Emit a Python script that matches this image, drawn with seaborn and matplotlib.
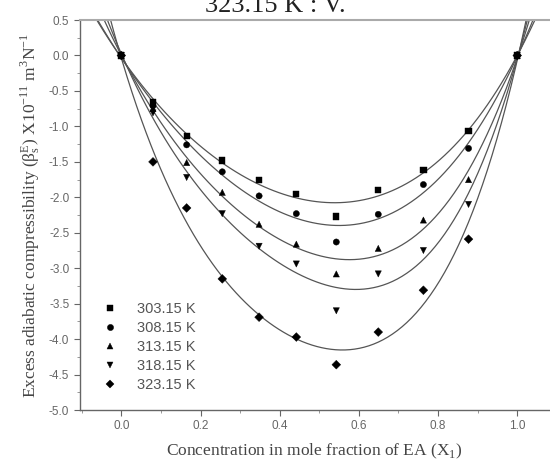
import numpy as np
import pandas as pd
import seaborn as sns
import matplotlib
matplotlib.use("Agg")
import matplotlib.pyplot as plt
from matplotlib.ticker import MultipleLocator, FormatStrFormatter

sns.set_theme(style="white")
plt.rcParams['font.family'] = ['Liberation Sans', 'DejaVu Sans']
plt.rcParams['axes.unicode_minus'] = False

# mole fraction of EA
x1 = [0.0, 0.08, 0.165, 0.255, 0.348, 0.442, 0.543, 0.649, 0.763, 0.877, 1.0]

# excess adiabatic compressibility, x10^-11 m^2 N^-1
k303 = [0.0, -0.66, -1.14, -1.48, -1.76, -1.95, -2.27, -1.90, -1.62, -1.07, 0.0]
k308 = [0.0, -0.71, -1.26, -1.64, -1.98, -2.23, -2.63, -2.24, -1.82, -1.31, 0.0]
k313 = [0.0, -0.75, -1.51, -1.93, -2.38, -2.66, -3.08, -2.72, -2.32, -1.75, 0.0]
k318 = [0.0, -0.81, -1.72, -2.23, -2.69, -2.94, -3.60, -3.08, -2.75, -2.10, 0.0]
k323 = [0.0, -1.50, -2.15, -3.15, -3.69, -3.97, -4.36, -3.90, -3.31, -2.59, 0.0]

labels = ['303.15 K', '308.15 K', '313.15 K', '318.15 K', '323.15 K']
series = [k303, k308, k313, k318, k323]
markers = {'303.15 K': 's', '308.15 K': 'o', '313.15 K': '^',
           '318.15 K': 'v', '323.15 K': 'D'}

df = pd.concat([pd.DataFrame({'x': x1, 'y': s, 'T': lab})
                for s, lab in zip(series, labels)], ignore_index=True)

fig = plt.figure(figsize=(5.5, 4.66), dpi=100)
ax = fig.add_axes([0.145, 0.120, 0.853, 0.837])
ax.set_xlim(-0.105, 1.08)
ax.set_ylim(-5.0, 0.5)

# fitted curves
for lab in labels:
    sub = df[df['T'] == lab]
    sns.regplot(data=sub, x='x', y='y', order=4, ci=None, truncate=False,
                scatter=False, ax=ax,
                line_kws={'color': '#555555', 'lw': 0.9})

sns.scatterplot(data=df, x='x', y='y', style='T', markers=markers,
                color='black', s=20, edgecolor='black', linewidth=0.3,
                ax=ax, zorder=3)

ax.set_xlim(-0.105, 1.08)
ax.set_ylim(-5.0, 0.5)

leg = ax.legend(loc='lower left', bbox_to_anchor=(0.005, 0.012), frameon=False,
                fontsize=10.5, handletextpad=0.85, labelspacing=0.35,
                markerscale=1.0)
for t in leg.get_texts():
    t.set_color('#555555')

ax.xaxis.set_major_locator(MultipleLocator(0.2))
ax.xaxis.set_minor_locator(MultipleLocator(0.1))
ax.yaxis.set_major_locator(MultipleLocator(0.5))
ax.yaxis.set_minor_locator(MultipleLocator(0.25))
ax.xaxis.set_major_formatter(FormatStrFormatter('%.1f'))
ax.yaxis.set_major_formatter(FormatStrFormatter('%.1f'))

for loc, sp in ax.spines.items():
    if loc == 'right':
        sp.set_visible(False)
    else:
        sp.set_visible(True)
        sp.set_color('#666666')
        sp.set_linewidth(1.0)
ax.spines['top'].set_color('#aaaaaa')
ax.spines['top'].set_linewidth(1.5)

ax.tick_params(axis='both', which='major', direction='out', length=4,
               width=0.8, color='#666666', labelsize=8.5, labelcolor='#666666',
               bottom=True, left=True)
ax.tick_params(axis='both', which='minor', direction='out', length=2,
               width=0.6, color='#888888', bottom=True, left=True)

serif = ['Liberation Serif', 'DejaVu Serif']
ax.set_xlabel('Concentration in mole fraction of EA (X$_\\mathregular{1}$)',
              fontsize=12.5, family=serif, color='#444444', labelpad=7)
ax.set_ylabel('Excess adiabatic compressibility ($\\mathregular{\\beta_s^E}$) '
              'X10$^\\mathregular{-11}$ m$^\\mathregular{3}$N$^\\mathregular{-1}$',
              fontsize=12.5, family=serif, color='#444444', labelpad=5)

fig.text(0.5, 0.975, '323.15 K : V.', ha='center', va='baseline',
         fontsize=19, family=serif, color='#222222')

fig.savefig('out.png', dpi=100)
